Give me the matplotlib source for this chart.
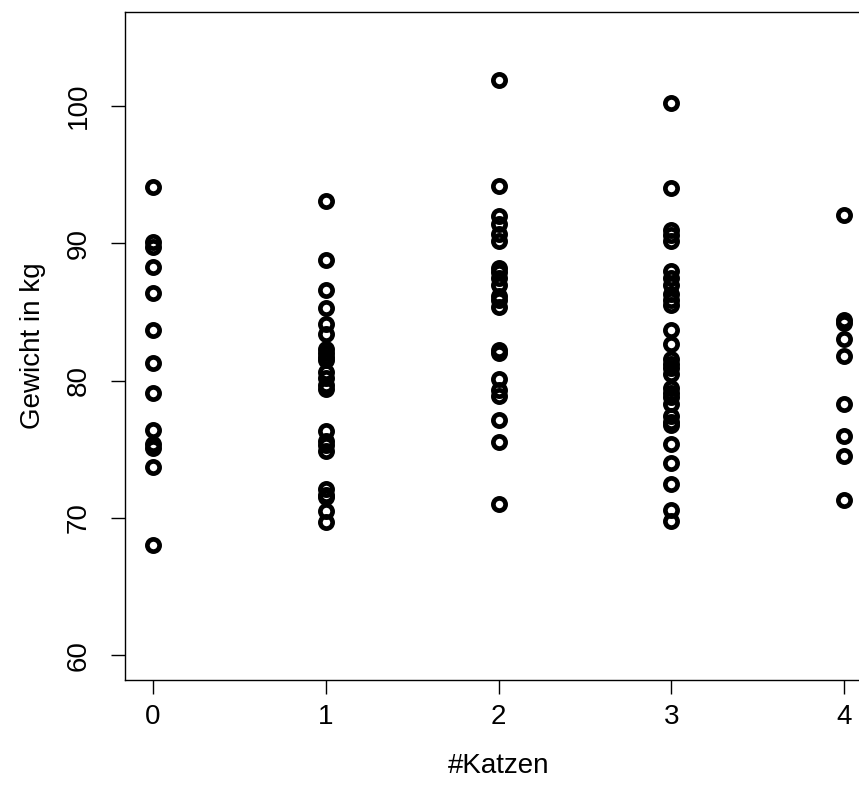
import matplotlib.pyplot as plt

plt.rcParams['font.family'] = ['Liberation Sans', 'DejaVu Sans']

# Gewicht (kg) je Anzahl Katzen
katzen_0 = [94.1, 90.1, 89.7, 88.3, 86.4, 83.7, 81.3, 79.1, 76.4, 75.4, 75.1, 73.7, 68.0]
katzen_1 = [93.1, 88.8, 86.6, 85.3, 84.1, 83.4, 82.3, 82.0, 81.7, 81.5, 80.6, 80.2,
            79.7, 79.4, 76.3, 75.6, 75.3, 74.9, 72.1, 71.7, 71.5, 70.5, 69.7]
katzen_2 = [101.9, 94.2, 92.0, 91.4, 90.7, 90.2, 88.2, 87.9, 87.5, 87.0, 86.2, 85.9,
            85.4, 82.2, 82.0, 80.1, 79.3, 78.9, 77.1, 75.5, 71.0]
katzen_3 = [100.2, 94.0, 91.0, 90.6, 90.2, 88.0, 87.5, 87.0, 86.3, 85.9, 85.5, 83.7,
            82.7, 81.6, 81.2, 80.9, 80.5, 79.5, 79.1, 78.8, 78.3, 77.4, 77.0, 76.8,
            75.4, 74.0, 72.5, 70.6, 69.8]
katzen_4 = [92.1, 84.4, 84.2, 83.0, 81.8, 78.3, 76.0, 74.5, 71.3]

gruppen = [katzen_0, katzen_1, katzen_2, katzen_3, katzen_4]

fig = plt.figure(figsize=(8.59, 7.88), dpi=100)
# plot box runs past the right edge of the figure, like the reference
ax = fig.add_axes([125 / 859, 108 / 788, 747 / 859, 668 / 788])

for n, werte in enumerate(gruppen):
    ax.plot([n] * len(werte), werte, linestyle='none', marker='o',
            markersize=8.8, markerfacecolor='none', markeredgecolor='black',
            markeredgewidth=3.4)

ax.set_xlim(-0.16, 4.16)
ax.set_ylim(58.2, 106.85)
ax.set_xticks([0, 1, 2, 3, 4])
ax.set_yticks([60, 70, 80, 90, 100])
ax.tick_params(axis='both', labelsize=20, length=10, width=1.0)
ax.tick_params(axis='x', pad=7)
ax.tick_params(axis='y', pad=14)
for lab in ax.get_yticklabels():
    lab.set_rotation(90)
    lab.set_verticalalignment('center')

for s in ax.spines.values():
    s.set_linewidth(1.0)

ax.set_xlabel('#Katzen', fontsize=20, labelpad=17)
ax.set_ylabel('Gewicht in kg', fontsize=20, labelpad=14)

fig.savefig('out.png', dpi=100)
